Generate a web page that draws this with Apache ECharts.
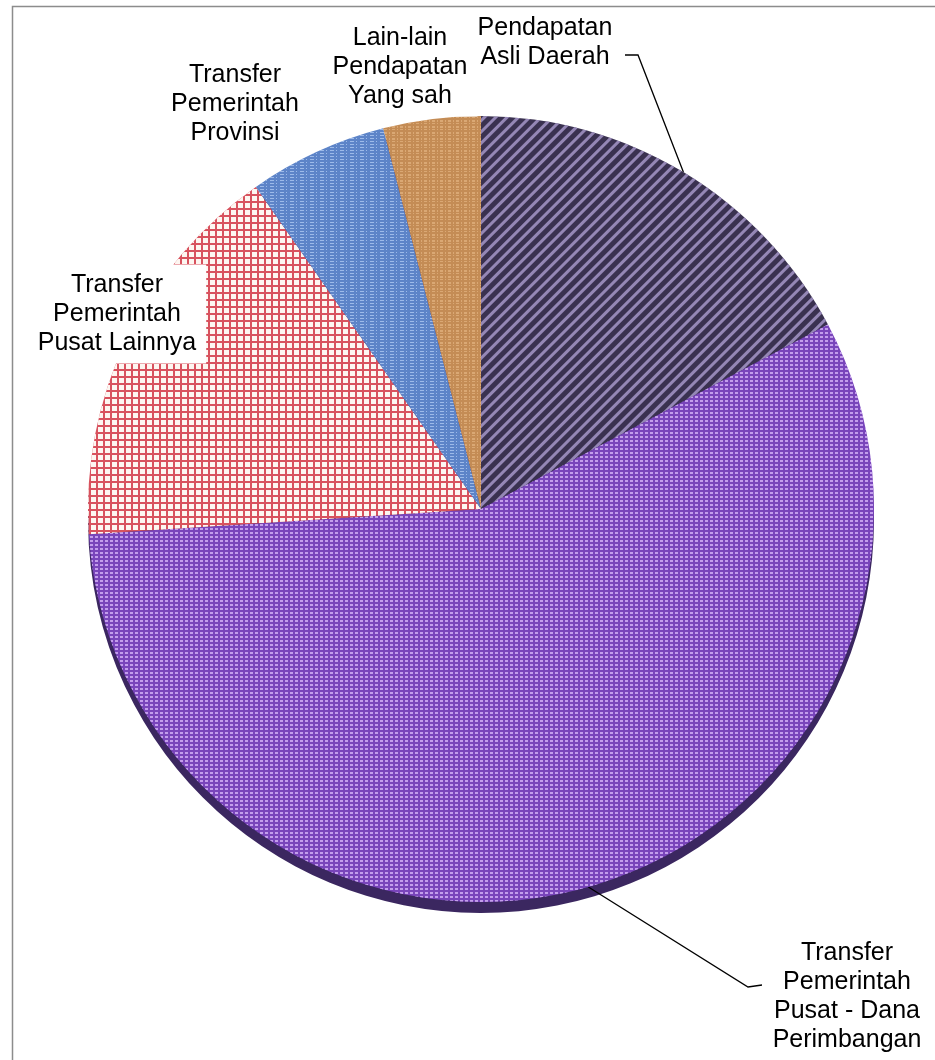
<!DOCTYPE html>
<html>
<head>
<meta charset="utf-8">
<script src="https://cdn.jsdelivr.net/npm/echarts@6/dist/echarts.min.js"></script>
<style>
html,body{margin:0;padding:0;background:#fff;}
#chart{width:935px;height:1060px;}
</style>
</head>
<body>
<div id="chart"></div>
<script>
// ---- data ----
const categories = [
  'Pendapatan Asli Daerah',
  'Transfer Pemerintah Pusat - Dana Perimbangan',
  'Transfer Pemerintah Pusat Lainnya',
  'Transfer Pemerintah Provinsi',
  'Lain-lain Pendapatan Yang sah'
];
const shares = [17.2, 56.7, 16.3, 5.7, 4.0];
const labelTexts = [
  'Pendapatan\nAsli Daerah',
  'Transfer\nPemerintah\nPusat - Dana\nPerimbangan',
  'Transfer\nPemerintah\nPusat Lainnya',
  'Transfer\nPemerintah\nProvinsi',
  'Lain-lain\nPendapatan\nYang sah'
];

// ---- layout / style ----
const labelCenters = [[545, 43], [847, 997], [117, 314], [235, 104], [400, 67]];
const showLeader = [true, true, false, false, false];
const sliceStyles = [
  {color: '#3a3150', decal: {symbol: 'rect', symbolSize: 1, color: 'rgba(165,150,200,0.85)', dashArrayX: [1, 0], dashArrayY: [3, 5], rotation: -Math.PI / 4}},
  {color: '#7945bb', decal: {symbol: 'rect', symbolSize: 1, color: 'rgba(220,188,252,0.75)', dashArrayX: [3, 2], dashArrayY: [2, 2]}},
  {color: '#d8525e', decal: {symbol: 'rect', symbolSize: 1, color: '#fdf6f1', dashArrayX: [5, 2], dashArrayY: [5, 2]}},
  {color: '#5d84c8', decal: {symbol: 'rect', symbolSize: 1, color: 'rgba(200,222,255,0.6)', dashArrayX: [4, 2, 1, 3], dashArrayY: [1, 2]}},
  {color: '#c48c55', decal: {symbol: 'rect', symbolSize: 1, color: 'rgba(236,192,142,0.55)', dashArrayX: [3, 2, 1, 2], dashArrayY: [2, 1, 1, 2]}}
];
const pieCenter = [481, 509];
const pieRadius = 393;

const chart = echarts.init(document.getElementById('chart'), null, {renderer: 'canvas'});

const mainData = categories.map((name, i) => ({
  name: name,
  value: shares[i],
  itemStyle: {color: sliceStyles[i].color, decal: sliceStyles[i].decal, borderWidth: 0},
  labelLine: {show: showLeader[i]}
}));
const shadowData = categories.map((name, i) => ({name: name, value: shares[i]}));

chart.setOption({
  backgroundColor: '#fff',
  animation: false,
  graphic: [{
    type: 'rect', left: 10, top: 4, z: -10, silent: true,
    shape: {width: 940, height: 1070},
    style: {fill: 'none', stroke: '#8c8c8c', lineWidth: 1.5}
  }],
  series: [
    {
      type: 'pie', silent: true, z: 1,
      center: [pieCenter[0], pieCenter[1] + 11], radius: pieRadius,
      startAngle: 90, clockwise: true,
      label: {show: false}, labelLine: {show: false},
      itemStyle: {color: '#3b2760', borderWidth: 0},
      data: shadowData
    },
    {
      type: 'pie', silent: true, z: 2,
      center: pieCenter, radius: pieRadius,
      startAngle: 90, clockwise: true,
      avoidLabelOverlap: false,
      label: {
        show: true, position: 'outside',
        formatter: p => labelTexts[p.dataIndex],
        fontFamily: '"Liberation Sans", Arial, sans-serif',
        fontSize: 25, lineHeight: 29, color: '#000',
        align: 'center',
        backgroundColor: '#fff', padding: [6, 10]
      },
      labelLine: {show: true, length: 20, length2: 20, smooth: false, lineStyle: {color: '#000', width: 1.3}},
      labelLayout: function (p) {
        const i = p.dataIndex;
        const c = labelCenters[i];
        const out = {x: c[0], y: c[1], align: 'center', verticalAlign: 'middle'};
        if (showLeader[i] && p.labelLinePoints) {
          const s = p.labelLinePoints[0];
          if (i === 0) {
            out.labelLinePoints = [s, [c[0] + 93, c[1] + 12], [c[0] + 80, c[1] + 12]];
          } else {
            out.labelLinePoints = [s, [c[0] - 99, c[1] - 10], [c[0] - 85, c[1] - 12]];
          }
        }
        return out;
      },
      data: mainData
    }
  ]
});
</script>
</body>
</html>
